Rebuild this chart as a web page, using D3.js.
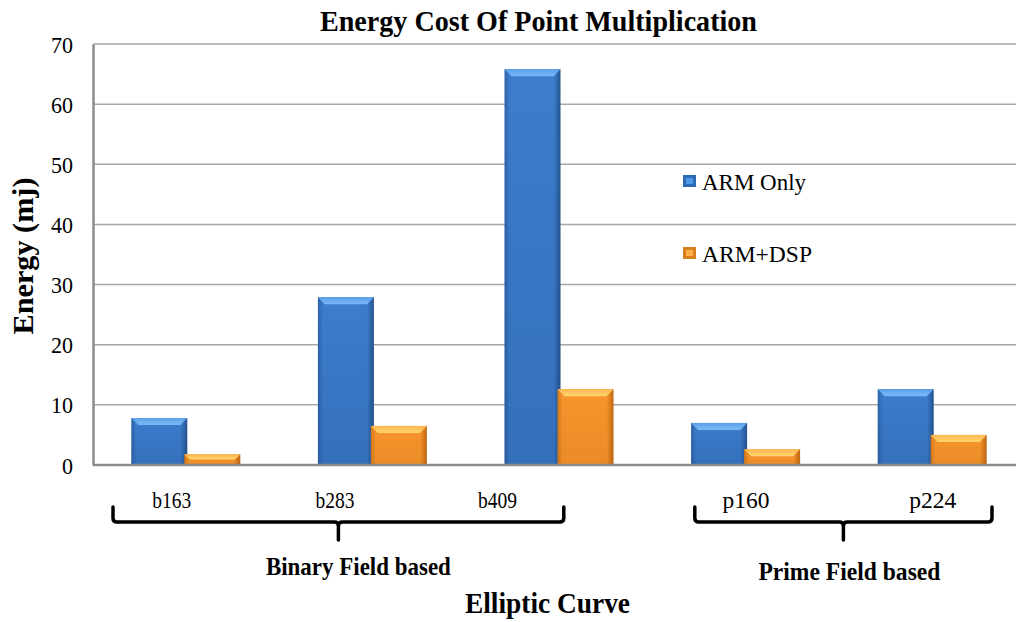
<!DOCTYPE html>
<html>
<head>
<meta charset="utf-8">
<script src="https://cdn.jsdelivr.net/npm/d3@7"></script>
<style>
  html, body { margin: 0; padding: 0; background: #fff; }
  svg { display: block; font-family: "Liberation Serif", "Times New Roman", serif; }
</style>
</head>
<body>
<svg id="chart" width="1016" height="622"></svg>
<script>
// Energy per point multiplication (mJ) for each elliptic curve
const categories = ["b163", "b283", "b409", "p160", "p224"];
const armOnly = [7.8, 27.9, 65.8, 7.0, 12.6];
const armDsp = [1.8, 6.5, 12.6, 2.6, 5.0];
const seriesNames = ["ARM Only", "ARM+DSP"];
const yTicks = [0, 10, 20, 30, 40, 50, 60, 70];
const groupLabels = ["Binary Field based", "Prime Field based"];
const groupFirst = ["b163", "p160"];
const groupLast = ["b409", "p224"];

const svg = d3.select("#chart");
const W = 1016, H = 622;
const plotLeft = 93, plotTop = 44, plotBottom = 465;
const plotW = 933;

const x = d3.scaleBand().domain(categories).range([plotLeft, plotLeft + plotW]).padding(0);
const y = d3.scaleLinear().domain([0, 70]).range([plotBottom, plotTop]);

// text helper: serif text squeezed slightly to a set width
function label(sel, txt, opts) {
  const t = sel.append("text").text(txt)
    .attr("font-size", opts.size)
    .attr("text-anchor", opts.anchor || "middle");
  if (opts.bold) t.attr("font-weight", "bold");
  if (opts.len) t.attr("textLength", opts.len).attr("lengthAdjust", "spacingAndGlyphs");
  if (opts.transform) t.attr("transform", opts.transform);
  else t.attr("x", opts.x).attr("y", opts.y);
  return t;
}

// gradients for the bevelled bar look
const defs = svg.append("defs");
function hGrad(id, edge, mid, edge2) {
  const g = defs.append("linearGradient").attr("id", id).attr("x1", "0").attr("x2", "1").attr("y1", "0").attr("y2", "0");
  g.append("stop").attr("offset", "0%").attr("stop-color", edge);
  g.append("stop").attr("offset", "9%").attr("stop-color", mid);
  g.append("stop").attr("offset", "88%").attr("stop-color", mid);
  g.append("stop").attr("offset", "100%").attr("stop-color", edge2);
}
hGrad("blueBody", "#2d62a8", "#3c7dcd", "#24538f");
hGrad("orangeBody", "#d57a1c", "#f7952c", "#c06812");
function vGrad(id, c1, c2) {
  const g = defs.append("linearGradient").attr("id", id).attr("x1", "0").attr("x2", "0").attr("y1", "0").attr("y2", "1");
  g.append("stop").attr("offset", "0%").attr("stop-color", c1);
  g.append("stop").attr("offset", "100%").attr("stop-color", c2);
}
vGrad("blueTop", "#5aa0ea", "#7bbaf6");
vGrad("orangeTop", "#fdb650", "#ffd66e");
vGrad("blueShade", "rgba(20,50,100,0)", "rgba(20,50,100,0.18)");
vGrad("orangeShade", "rgba(140,70,0,0)", "rgba(140,70,0,0.12)");

// grid lines
svg.append("g").selectAll("line").data(yTicks.filter(d => d > 0)).join("line")
  .attr("x1", plotLeft).attr("x2", W)
  .attr("y1", d => y(d)).attr("y2", d => y(d))
  .attr("stroke", "#a6a6a6").attr("stroke-width", 1.5);

// y axis
const yAxis = svg.append("g").attr("transform", `translate(${plotLeft},0)`)
  .call(d3.axisLeft(y).tickValues(yTicks).tickSize(0).tickPadding(20).tickFormat(d3.format("d")));
yAxis.select(".domain").attr("stroke", "#8c8c8c").attr("stroke-width", 2.5);
yAxis.selectAll(".tick text")
  .attr("font-family", "Liberation Serif, serif").attr("font-size", 23.5).attr("fill", "#000")
  .attr("dy", "0.34em")
  .attr("textLength", d => d === 0 ? 11 : 22).attr("lengthAdjust", "spacingAndGlyphs");

// bars
const barW = 56;
function drawBars(values, offset, body, topG, shade, cls) {
  const g = svg.append("g").attr("class", cls);
  categories.forEach((c, i) => {
    const cx = x(c) + x.bandwidth() / 2;
    const x0 = cx + offset;
    const y0 = y(values[i]);
    const h = y(0) - y0;
    const bg = g.append("g");
    bg.append("rect").attr("x", x0).attr("y", y0).attr("width", barW).attr("height", h).attr("fill", `url(#${body})`);
    bg.append("rect").attr("x", x0).attr("y", y0).attr("width", barW).attr("height", h).attr("fill", `url(#${shade})`);
    const bev = Math.min(7, h / 2);
    bg.append("path")
      .attr("d", `M${x0},${y0} L${x0 + barW},${y0} L${x0 + barW - bev},${y0 + bev} L${x0 + bev},${y0 + bev} Z`)
      .attr("fill", `url(#${topG})`);
  });
}
drawBars(armOnly, -55, "blueBody", "blueTop", "blueShade", "arm");
drawBars(armDsp, -2, "orangeBody", "orangeTop", "orangeShade", "dsp");

// baseline on top of bars
svg.append("line").attr("x1", plotLeft).attr("x2", W).attr("y1", y(0)).attr("y2", y(0))
  .attr("stroke", "#8c8c8c").attr("stroke-width", 2.5);

// category labels (the binary-field labels sit left of their bar pairs)
const labelShift = [-14.5, -38, -62, 0, 0];
const catG = svg.append("g");
categories.forEach((c, i) => {
  label(catG, c, { x: x(c) + x.bandwidth() / 2 + labelShift[i], y: 508, size: 23, len: i < 3 ? 39 : 47 });
});

// group braces
const braceTop = 507, braceLine = 522, braceTip = 540, r = 4;
const groupText = [{ dx: 20, y: 575, len: 185 }, { dx: 6, y: 580, len: 182 }];
groupLabels.forEach((lab, i) => {
  const xa = x(groupFirst[i]) + (i === 0 ? 20 : 42);
  const xb = x(groupLast[i]) + x.bandwidth() - (i === 0 ? 89 : 34);
  const xc = (xa + xb) / 2;
  const d = `M${xa},${braceTop} L${xa},${braceLine - r} Q${xa},${braceLine} ${xa + r},${braceLine} L${xc - r},${braceLine} Q${xc},${braceLine} ${xc},${braceLine + r} L${xc},${braceTip}` +
    ` M${xc},${braceLine + r} Q${xc},${braceLine} ${xc + r},${braceLine} L${xb - r},${braceLine} Q${xb},${braceLine} ${xb},${braceLine - r} L${xb},${braceTop}`;
  svg.append("path").attr("d", d).attr("fill", "none").attr("stroke", "#000").attr("stroke-width", 3.5)
    .attr("stroke-linecap", "round").attr("stroke-linejoin", "round");
  label(svg, lab, { x: xc + groupText[i].dx, y: groupText[i].y, size: 25, bold: true, len: groupText[i].len });
});

// legend
const legendY = [181, 253];
const legendLen = [104, 110];
seriesNames.forEach((name, i) => {
  const ly = legendY[i];
  const base = i === 0 ? ["#2f6cb8", "#4f9ae8"] : ["#d9801f", "#fbb04a"];
  svg.append("rect").attr("x", 683).attr("y", ly - 6).attr("width", 13).attr("height", 12).attr("fill", base[0]);
  svg.append("rect").attr("x", 686).attr("y", ly - 3).attr("width", 7).attr("height", 6).attr("fill", base[1]);
  label(svg, name, { x: 702, y: ly + 9, size: 24, anchor: "start", len: legendLen[i] });
});

// titles
label(svg, "Energy Cost Of Point Multiplication", { x: 538.5, y: 31, size: 29, bold: true, len: 437 });
label(svg, "Energy (mj)", { transform: "translate(33,256) rotate(-90)", size: 29, bold: true, len: 157 });
label(svg, "Elliptic Curve", { x: 547.5, y: 613, size: 29, bold: true, len: 165 });
</script>
</body>
</html>
